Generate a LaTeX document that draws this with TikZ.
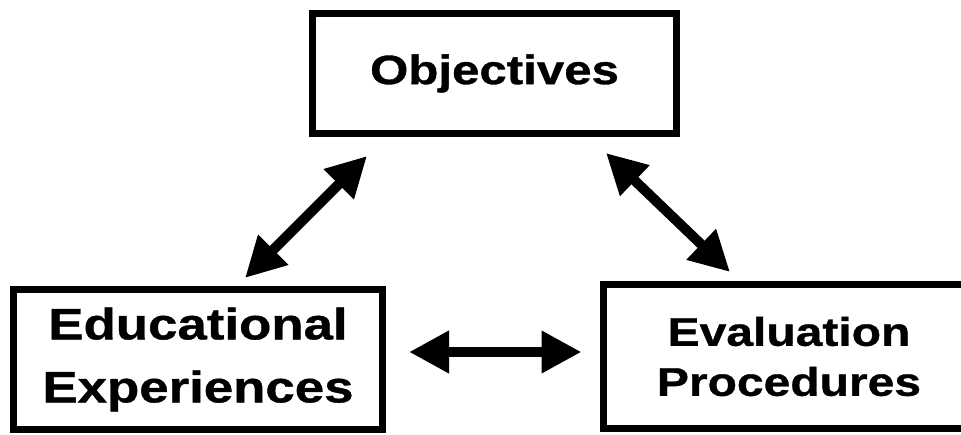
\documentclass[tikz,border=0pt]{standalone}
\usepackage{fontspec}
\newfontfamily\boxfont{Liberation Sans}[FakeStretch=1.2,FakeBold=0.8]
\usetikzlibrary{arrows.meta}

\begin{document}
\begin{tikzpicture}[x=1pt,y=1pt,
    box/.style={draw,line width=7pt,inner sep=0pt,align=center},
    link/.style={line width=10pt,<->,>={Triangle[length=40pt,width=40pt]}}]
    \path[fill=white,use as bounding box] (0,0) rectangle (961,434);
    % the three boxes
    \node[box,minimum width=364pt,minimum height=120pt,
        font=\boxfont\bfseries\fontsize{41pt}{48pt}\selectfont]
        (obj) at (494.5,360.5) {Objectives};
    \node[box,minimum width=369pt,minimum height=140pt,
        font=\boxfont\bfseries\fontsize{44pt}{63pt}\selectfont]
        (edu) at (198,74.5) {Educational\\Experiences};
    \node[box,minimum width=372pt,minimum height=144pt,
        font=\boxfont\bfseries\fontsize{40pt}{50pt}\selectfont]
        (eval) at (789,77.5) {Evaluation\\Procedures};
    % arrow ends
    \coordinate (edu-up)   at ([shift={(47,8)}]edu.north);
    \coordinate (obj-dl)   at ([shift={(58,-19)}]obj.south west);
    \coordinate (obj-dr)   at ([shift={(-74,-16)}]obj.south east);
    \coordinate (eval-up)  at ([shift={(-59,9)}]eval.north);
    \coordinate (edu-rt)   at ([shift={(23,7.5)}]edu.east);
    \coordinate (eval-lt)  at ([shift={(-18,4.5)}]eval.west);
    \draw[link] (edu-up) -- (obj-dl);
    \draw[link] (obj-dr) -- (eval-up);
    \draw[link] (edu-rt) -- (eval-lt);
\end{tikzpicture}
\end{document}
